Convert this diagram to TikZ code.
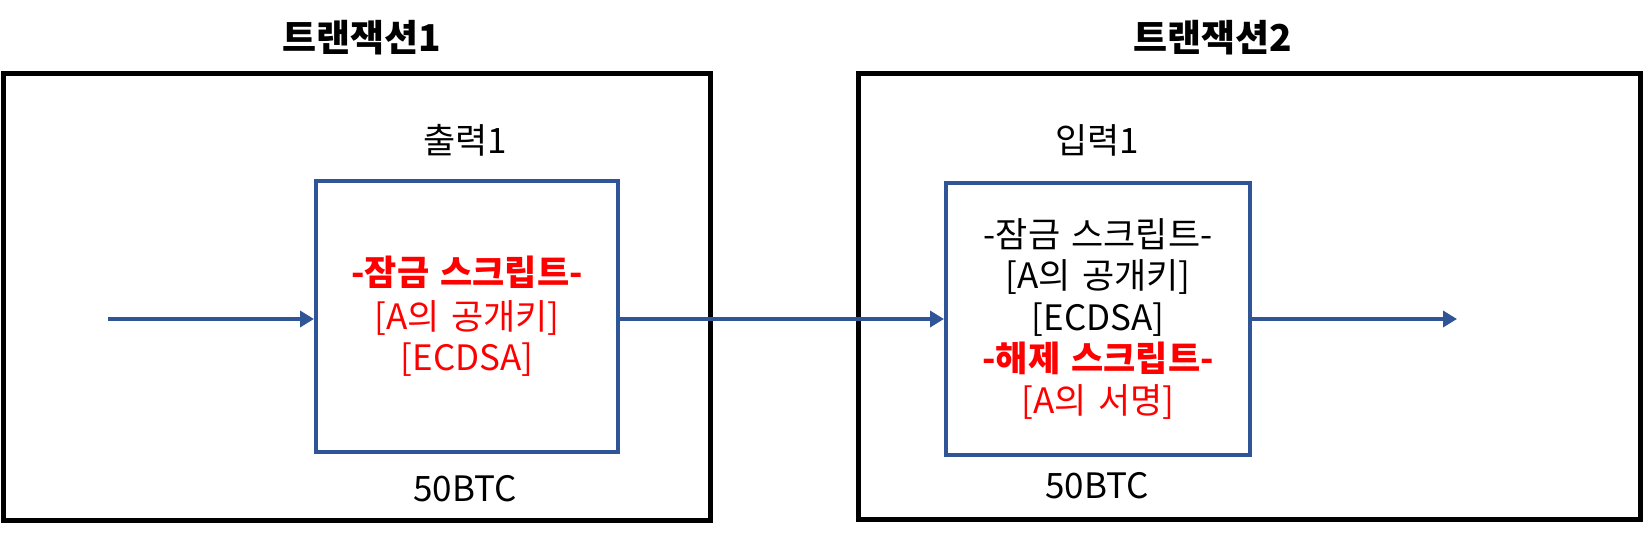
\documentclass[tikz,border=0pt]{standalone}
\usepackage{fontspec}
\setmainfont{Noto Sans CJK KR}
\usetikzlibrary{arrows.meta}
\definecolor{boxblue}{HTML}{2F5597}
\definecolor{txtred}{HTML}{FF0000}
\newcommand{\gapsp}{\hspace{0.32em}}
\tikzset{
  outerbox/.style={draw=black, line width=5pt, minimum width=#1, minimum height=446pt, inner sep=0pt},
  innerbox/.style={draw=boxblue, line width=4pt, minimum width=#1, minimum height=271pt, inner sep=0pt, align=center, font=\fontsize{35}{41.5}\selectfont},
  titletext/.style={font=\fontsize{37}{42}\selectfont\bfseries},
  labeltext/.style={font=\fontsize{35}{40}\selectfont},
  flow/.style={draw=boxblue, line width=3.5pt, -{Triangle[length=14pt,width=16pt]}},
}
\begin{document}
\begin{tikzpicture}[x=1pt,y=-1pt]
\useasboundingbox (0,0) rectangle (1647,556);
\node[outerbox=707pt] (tx1) at (356.5,297) {};
\node[outerbox=782pt] (tx2) at (1249,296.5) {};
\node[titletext] (t1) at (362,38) {트랜잭션1};
\node[titletext] (t2) at (1213,38) {트랜잭션2};
\node[labeltext] (l1) at (465,140) {출력1};
\node[labeltext] (l2) at (1097,140) {입력1};
\node[innerbox=302pt] (out1) at (467,316.5) {\textcolor{txtred}{\bfseries -잠금\gapsp 스크립트-}\\[2pt]\textcolor{txtred}{[A의\gapsp 공개키]}\\\textcolor{txtred}{[ECDSA]}};
\node[innerbox=304pt] (in1) at (1098,319) {-잠금\gapsp 스크립트-\\{}[A의\gapsp 공개키]\\{}[ECDSA]\\\textcolor{txtred}{\bfseries -해제\gapsp 스크립트-}\\\textcolor{txtred}{[A의\gapsp 서명]}};
\node[labeltext] (b1) at (465,489) {50BTC};
\node[labeltext] (b2) at (1097,486) {50BTC};
\coordinate (start) at (108,319);
\coordinate (end) at (1457,319);
\draw[flow] (start) -- (start -| out1.west);
\draw[flow] (out1.east |- start) -- (in1.west |- start);
\draw[flow] (in1.east |- start) -- (end);
\end{tikzpicture}
\end{document}
